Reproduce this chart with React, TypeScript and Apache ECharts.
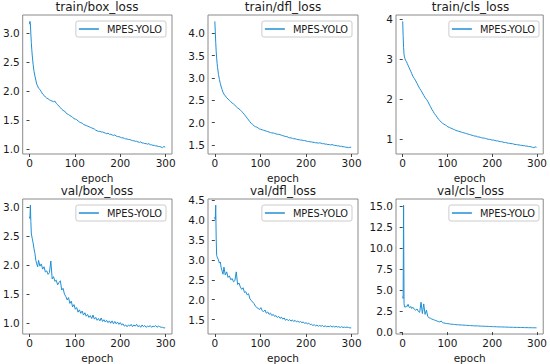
import React, { useEffect, useRef } from 'react';
import * as echarts from 'echarts';

const epochs = [
  0, 1, 2, 3, 4, 5, 6, 8, 10, 12, 14, 16, 18, 20,
  23, 26, 29, 32, 35, 38, 41, 44, 47, 50,
  53, 56, 59, 62, 65, 68, 71, 74, 77, 80,
  83, 86, 89, 92, 95, 98, 101, 104, 107, 110,
  113, 116, 119, 122, 125, 128, 131, 134, 137, 140,
  143, 146, 149, 152, 155, 158, 161, 164, 167, 170,
  173, 176, 179, 182, 185, 188, 191, 194, 197, 200,
  203, 206, 209, 212, 215, 218, 221, 224, 227, 230,
  233, 236, 239, 242, 245, 248, 251, 254, 257, 260,
  263, 266, 269, 272, 275, 278, 281, 284, 287, 290,
  293, 296, 299,
];

const trainBox = [
  3.15, 3.20, 3.16, 2.98, 2.84, 2.72, 2.62, 2.46, 2.34, 2.26, 2.19, 2.12, 2.09, 2.05,
  2.03, 1.99, 1.95, 1.93, 1.90, 1.88, 1.87, 1.85, 1.84, 1.83,
  1.82, 1.83, 1.79, 1.77, 1.74, 1.72, 1.69, 1.67, 1.66, 1.63,
  1.61, 1.60, 1.58, 1.57, 1.55, 1.53, 1.52, 1.51, 1.49, 1.47,
  1.46, 1.45, 1.43, 1.42, 1.41, 1.40, 1.39, 1.38, 1.37, 1.36,
  1.35, 1.33, 1.32, 1.31, 1.31, 1.30, 1.30, 1.29, 1.28, 1.27,
  1.28, 1.26, 1.26, 1.25, 1.24, 1.25, 1.23, 1.22, 1.22, 1.21,
  1.20, 1.20, 1.19, 1.18, 1.18, 1.17, 1.17, 1.16, 1.15, 1.15,
  1.14, 1.14, 1.13, 1.12, 1.13, 1.11, 1.11, 1.10, 1.10, 1.09,
  1.10, 1.08, 1.08, 1.07, 1.07, 1.06, 1.06, 1.05, 1.05, 1.04,
  1.03, 1.05, 1.04,
];

const trainDfl = [
  4.27, 4.05, 3.80, 3.60, 3.45, 3.33, 3.24, 3.08, 2.97, 2.88, 2.80, 2.74, 2.68, 2.64,
  2.60, 2.56, 2.53, 2.50, 2.47, 2.44, 2.42, 2.39, 2.36, 2.33,
  2.31, 2.28, 2.25, 2.22, 2.18, 2.14, 2.10, 2.06, 2.02, 1.98,
  1.96, 1.93, 1.91, 1.90, 1.88, 1.86, 1.85, 1.84, 1.83, 1.82,
  1.81, 1.80, 1.79, 1.78, 1.77, 1.77, 1.76, 1.75, 1.74, 1.74,
  1.73, 1.72, 1.71, 1.70, 1.69, 1.69, 1.67, 1.66, 1.66, 1.65,
  1.64, 1.64, 1.63, 1.62, 1.62, 1.61, 1.61, 1.60, 1.60, 1.59,
  1.58, 1.58, 1.57, 1.57, 1.56, 1.56, 1.55, 1.55, 1.54, 1.55,
  1.54, 1.53, 1.53, 1.52, 1.52, 1.51, 1.51, 1.50, 1.51, 1.50,
  1.49, 1.49, 1.48, 1.48, 1.47, 1.47, 1.46, 1.46, 1.45, 1.45,
  1.44, 1.45, 1.45,
];

const trainCls = [
  3.95, 3.60, 3.30, 3.12, 3.06, 3.02, 2.98, 2.95, 2.90, 2.85, 2.80, 2.75, 2.70, 2.65,
  2.57, 2.52, 2.46, 2.40, 2.33, 2.27, 2.22, 2.16, 2.10, 2.04,
  2.00, 1.95, 1.88, 1.82, 1.75, 1.70, 1.64, 1.60, 1.55, 1.50,
  1.47, 1.43, 1.40, 1.38, 1.36, 1.34, 1.31, 1.30, 1.28, 1.27,
  1.25, 1.24, 1.22, 1.21, 1.20, 1.19, 1.18, 1.17, 1.16, 1.15,
  1.14, 1.13, 1.12, 1.11, 1.10, 1.09, 1.08, 1.08, 1.06, 1.06,
  1.05, 1.04, 1.03, 1.03, 1.02, 1.01, 1.00, 1.00, 0.99, 0.98,
  0.98, 0.97, 0.96, 0.96, 0.95, 0.94, 0.94, 0.93, 0.92, 0.92,
  0.91, 0.90, 0.90, 0.89, 0.89, 0.88, 0.87, 0.87, 0.86, 0.86,
  0.85, 0.85, 0.84, 0.84, 0.83, 0.83, 0.82, 0.82, 0.81, 0.80,
  0.79, 0.81, 0.80,
];

const valBox = [
  2.83, 2.80, 3.03, 2.75, 2.55, 2.50, 2.46, 2.38, 2.28, 2.20, 2.08, 2.02, 1.97, 2.08,
  1.98, 2.02, 1.93, 1.97, 1.88, 1.90, 1.84, 1.87, 2.07, 1.76,
  1.80, 1.72, 1.74, 1.66, 1.70, 1.73, 1.57, 1.60, 1.50, 1.46,
  1.40, 1.44, 1.34, 1.38, 1.28, 1.32, 1.24, 1.27, 1.19, 1.23,
  1.17, 1.21, 1.14, 1.18, 1.12, 1.15, 1.10, 1.13, 1.08, 1.14,
  1.07, 1.10, 1.05, 1.08, 1.04, 1.09, 1.03, 1.06, 1.02, 1.05,
  1.01, 1.04, 1.00, 1.04, 0.99, 1.03, 0.99, 1.02, 0.98, 1.01,
  0.97, 0.99, 0.95, 0.97, 0.94, 0.97, 0.95, 0.98, 0.94, 0.97,
  0.95, 0.98, 0.94, 0.96, 0.93, 0.97, 0.94, 0.96, 0.93, 0.95,
  0.94, 0.96, 0.93, 0.95, 0.94, 0.96, 0.93, 0.95, 0.94, 0.93,
  0.93, 0.92, 0.92,
];

const valDfl = [
  4.08, 4.02, 4.38, 3.55, 3.12, 3.08, 3.05, 3.00, 2.92, 2.95, 2.80, 2.72, 2.64, 2.82,
  2.62, 2.70, 2.56, 2.60, 2.50, 2.53, 2.45, 2.48, 2.70, 2.38,
  2.42, 2.32, 2.26, 2.30, 2.18, 2.20, 2.12, 2.15, 2.02, 1.98,
  1.94, 1.90, 1.84, 1.80, 1.78, 1.75, 1.80, 1.72, 1.70, 1.74,
  1.66, 1.69, 1.63, 1.66, 1.60, 1.63, 1.58, 1.60, 1.55, 1.58,
  1.53, 1.56, 1.51, 1.54, 1.48, 1.51, 1.47, 1.50, 1.46, 1.49,
  1.45, 1.48, 1.44, 1.46, 1.43, 1.45, 1.42, 1.44, 1.40, 1.42,
  1.39, 1.41, 1.37, 1.38, 1.35, 1.37, 1.34, 1.36, 1.33, 1.35,
  1.33, 1.35, 1.32, 1.34, 1.32, 1.33, 1.32, 1.34, 1.31, 1.33,
  1.31, 1.33, 1.31, 1.32, 1.30, 1.32, 1.30, 1.31, 1.30, 1.31,
  1.30, 1.29, 1.29,
];

const valCls = [
  4.20, 4.00, 15.10, 3.40, 3.00, 3.05, 2.95, 3.10, 3.05, 3.30, 3.00, 2.90, 3.05, 2.80,
  2.95, 2.70, 2.60, 2.75, 2.45, 2.35, 3.55, 2.20, 3.35, 2.10,
  2.60, 1.85, 1.70, 1.65, 1.55, 1.50, 1.42, 1.38, 1.30, 1.25,
  1.20, 1.32, 1.12, 1.08, 1.05, 1.02, 1.00, 0.98, 0.95, 0.93,
  0.92, 0.90, 0.88, 0.87, 0.86, 0.85, 0.84, 0.83, 0.82, 0.81,
  0.80, 0.79, 0.78, 0.77, 0.76, 0.75, 0.74, 0.74, 0.73, 0.72,
  0.71, 0.70, 0.70, 0.69, 0.68, 0.68, 0.67, 0.66, 0.66, 0.65,
  0.64, 0.64, 0.63, 0.62, 0.62, 0.61, 0.61, 0.60, 0.60, 0.59,
  0.59, 0.58, 0.58, 0.57, 0.57, 0.56, 0.56, 0.56, 0.55, 0.55,
  0.54, 0.54, 0.54, 0.53, 0.53, 0.53, 0.52, 0.52, 0.52, 0.51,
  0.51, 0.51, 0.50,
];

const titles = ['train/box_loss', 'train/dfl_loss', 'train/cls_loss', 'val/box_loss', 'val/dfl_loss', 'val/cls_loss'];
const seriesValues = [trainBox, trainDfl, trainCls, valBox, valDfl, valCls];
const xTicks = [0, 100, 200, 300];
const yTicks = [
  [1.0, 1.5, 2.0, 2.5, 3.0],
  [1.5, 2.0, 2.5, 3.0, 3.5, 4.0],
  [1, 2, 3, 4],
  [1.0, 1.5, 2.0, 2.5, 3.0],
  [1.5, 2.0, 2.5, 3.0, 3.5, 4.0, 4.5],
  [0.0, 2.5, 5.0, 7.5, 10.0, 12.5, 15.0],
];
const yDecimals = [1, 1, 0, 1, 1, 1];
const legendName = 'MPES-YOLO';

const FONT = 'DejaVu Sans';
const LINE = '#1f8fd4';
const SPINE = '#8a8a8a';
const TEXT = '#1a1a1a';

const colLeft = [22, 208, 396];
const colWidth = [150, 150, 149];
const rowTop = [15, 199];
const plotH = 139;

function buildOption() {
  const grids: any[] = [];
  const xAxes: any[] = [];
  const yAxes: any[] = [];
  const series: any[] = [];
  const titleArr: any[] = [];
  const legends: any[] = [];
  const xMin = Math.min(...epochs);
  const xMax = Math.max(...epochs);
  const xPad = (xMax - xMin) * 0.05;
  for (let i = 0; i < 6; i++) {
    const r = Math.floor(i / 3);
    const c = i % 3;
    const left = colLeft[c];
    const w = colWidth[c];
    const top = rowTop[r];
    const vals = seriesValues[i];
    const yMin = Math.min(...vals);
    const yMax = Math.max(...vals);
    const yPad = (yMax - yMin) * 0.05;
    grids.push({
      left, top, width: w, height: plotH,
      show: true, borderColor: SPINE, borderWidth: 1, backgroundColor: 'transparent',
      containLabel: false,
    });
    xAxes.push({
      type: 'value', gridIndex: i, min: xMin - xPad, max: xMax + xPad,
      axisLine: { show: false },
      splitLine: { show: false },
      axisTick: { show: true, length: 3, customValues: xTicks, lineStyle: { color: '#444', width: 1 } },
      axisLabel: { customValues: xTicks, fontFamily: FONT, fontSize: 10.5, color: TEXT, margin: 3 },
      name: 'epoch', nameLocation: 'middle', nameGap: 18,
      nameTextStyle: { fontFamily: FONT, fontSize: 10.5, color: TEXT },
    });
    const dec = yDecimals[i];
    yAxes.push({
      type: 'value', gridIndex: i, min: yMin - yPad, max: yMax + yPad,
      axisLine: { show: false },
      splitLine: { show: false },
      axisTick: { show: true, length: 3, customValues: yTicks[i], lineStyle: { color: '#444', width: 1 } },
      axisLabel: {
        customValues: yTicks[i], fontFamily: FONT, fontSize: 10.5, color: TEXT, margin: 3,
        formatter: (v: number) => v.toFixed(dec),
      },
    });
    series.push({
      type: 'line', name: legendName, xAxisIndex: i, yAxisIndex: i,
      data: epochs.map((e, k) => [e, vals[k]]),
      symbol: 'none', showSymbol: false,
      lineStyle: { color: LINE, width: 1 }, itemStyle: { color: LINE },
      silent: true,
    });
    titleArr.push({
      text: titles[i], left: left + w / 2, top: top - 14, textAlign: 'center', padding: 0,
      textStyle: { fontFamily: FONT, fontSize: 12, fontWeight: 'normal', color: TEXT },
    });
    legends.push({
      data: [legendName], right: 550 - (left + w) + 6, top: top + 6,
      orient: 'horizontal', padding: [3, 4, 3, 3],
      backgroundColor: '#fff', borderColor: '#cccccc', borderWidth: 1, borderRadius: 2,
      icon: 'rect', itemWidth: 20, itemHeight: 1.5, itemGap: 4,
      textStyle: { fontFamily: FONT, fontSize: 9.8, color: TEXT, padding: [0, 0, 0, 3] },
      selectedMode: false,
    });
  }
  return {
    animation: false,
    backgroundColor: '#fff',
    title: titleArr,
    legend: legends,
    grid: grids,
    xAxis: xAxes,
    yAxis: yAxes,
    series,
  };
}

export default function App() {
  const ref = useRef<HTMLDivElement>(null);
  useEffect(() => {
    document.body.style.margin = '0';
    const chart = echarts.init(ref.current!, null, { renderer: 'svg' });
    chart.setOption(buildOption() as any);
    return () => chart.dispose();
  }, []);
  return <div ref={ref} style={{ width: 550, height: 364 }} />;
}
